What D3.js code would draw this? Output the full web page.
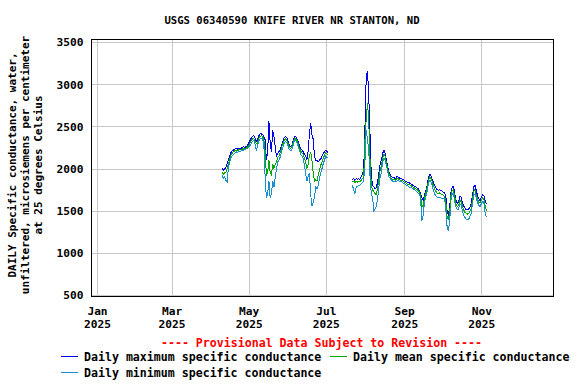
<!doctype html>
<html>
<head>
<meta charset="UTF-8">
<title>USGS 06340590 KNIFE RIVER NR STANTON, ND</title>
<script src="https://cdn.jsdelivr.net/npm/d3@7"></script>
<style>
    body { margin: 0; background: #fff; }
    text { font-family: "DejaVu Sans Mono", "Liberation Mono", monospace; font-weight: bold; fill: #000; }
</style>
</head>
<body>
<div id="chart"></div>
<script>

var width = 576,
    height = 384;

// axis ticks
var yTicks = [500, 1000, 1500, 2000, 2500, 3000, 3500];
var monthTicks = ["2025-01-01", "2025-03-01", "2025-05-01", "2025-07-01", "2025-09-01", "2025-11-01"];
var monthLabels = ["Jan", "Mar", "May", "Jul", "Sep", "Nov"];
var yearLabels = ["2025", "2025", "2025", "2025", "2025", "2025"];

// first record block, one value per day
var seg1Start = "2025-04-10";
var seg1Max = [2000, 1980, 2000, 2010, 2060, 2100, 2150, 2190, 2210, 2220,
    2230, 2240, 2230, 2240, 2240, 2240, 2250, 2260, 2250, 2260,
    2270, 2300, 2330, 2360, 2380, 2390, 2360, 2320, 2340, 2390,
    2410, 2410, 2400, 2380, 2340, 2100, 2200, 2560, 2300, 2200,
    2450, 2380, 2250, 2150, 2180, 2200, 2230, 2280, 2320, 2360,
    2380, 2370, 2330, 2280, 2260, 2270, 2320, 2370, 2380, 2360,
    2330, 2280, 2240, 2220, 2200, 2170, 2150, 2100, 2200, 2400,
    2540, 2400, 2350, 2150, 2100, 2100, 2080, 2100, 2110, 2150,
    2180, 2200, 2220, 2200, 2180];
var seg1Mean = [1950, 1930, 1950, 1960, 2000, 2060, 2110, 2160, 2180, 2200,
    2210, 2220, 2210, 2220, 2220, 2225, 2230, 2240, 2235, 2245,
    2255, 2270, 2300, 2330, 2350, 2360, 2330, 2290, 2300, 2360,
    2380, 2390, 2380, 2340, 2200, 1920, 1950, 2100, 1950, 1920,
    2050, 2000, 2050, 2080, 2130, 2150, 2190, 2250, 2290, 2330,
    2350, 2340, 2300, 2260, 2240, 2250, 2300, 2350, 2360, 2340,
    2300, 2250, 2210, 2190, 2170, 2120, 2080, 2000, 2050, 2150,
    2200, 2100, 1950, 1850, 1870, 1850, 1920, 1980, 2040, 2080,
    2120, 2160, 2190, 2170, 2160];
var seg1Min = [1920, 1880, 1900, 1860, 1840, 2020, 2080, 2130, 2150, 2170,
    2180, 2200, 2190, 2200, 2200, 2210, 2210, 2220, 2220, 2230,
    2240, 2250, 2270, 2300, 2320, 2330, 2290, 2220, 2260, 2330,
    2350, 2360, 2350, 2280, 1900, 1650, 1700, 1850, 1650, 1700,
    1850, 1780, 1900, 2000, 2080, 2100, 2140, 2200, 2250, 2300,
    2320, 2310, 2270, 2230, 2210, 2220, 2270, 2320, 2340, 2310,
    2270, 2220, 2170, 2150, 2120, 2050, 1950, 1850, 1900, 1950,
    1700, 1550, 1600, 1650, 1780, 1760, 1800, 1880, 1950, 2000,
    2060, 2100, 2150, 2130, 2130];

// second record block
var seg2Start = "2025-07-22";
var seg2Max = [1870, 1880, 1860, 1880, 1870, 1880, 1870, 1900, 1930, 2000,
    2500, 3100, 3150, 2850, 2400, 1900, 1800, 1780, 1760, 1770,
    1850, 1950, 2050, 2100, 2180, 2220, 2180, 2100, 2020, 1960,
    1930, 1900, 1890, 1890, 1880, 1900, 1900, 1890, 1880, 1880,
    1870, 1860, 1850, 1840, 1830, 1830, 1820, 1810, 1800, 1790,
    1790, 1770, 1760, 1740, 1700, 1650, 1620, 1680, 1730, 1790,
    1880, 1930, 1920, 1880, 1840, 1800, 1770, 1750, 1740, 1750,
    1740, 1730, 1720, 1710, 1660, 1480, 1450, 1550, 1720, 1780,
    1790, 1700, 1620, 1590, 1600, 1670, 1660, 1600, 1560, 1530,
    1510, 1510, 1520, 1540, 1580, 1680, 1780, 1800, 1740, 1680,
    1640, 1620, 1660, 1690, 1680, 1620, 1580];
var seg2Mean = [1840, 1850, 1830, 1850, 1840, 1850, 1840, 1860, 1880, 1900,
    2350, 2600, 2780, 2550, 2100, 1800, 1750, 1720, 1700, 1690,
    1780, 1880, 1980, 2030, 2120, 2170, 2140, 2060, 1990, 1930,
    1900, 1880, 1870, 1870, 1860, 1880, 1880, 1870, 1860, 1860,
    1850, 1840, 1830, 1820, 1810, 1810, 1800, 1790, 1780, 1770,
    1760, 1750, 1740, 1720, 1680, 1550, 1560, 1640, 1700, 1760,
    1840, 1900, 1890, 1850, 1800, 1760, 1730, 1710, 1700, 1710,
    1700, 1690, 1680, 1670, 1600, 1420, 1400, 1480, 1680, 1740,
    1750, 1660, 1580, 1550, 1560, 1620, 1610, 1560, 1510, 1480,
    1470, 1460, 1470, 1490, 1530, 1630, 1730, 1750, 1690, 1640,
    1600, 1590, 1620, 1650, 1640, 1560, 1500];
var seg2Min = [1800, 1750, 1700, 1780, 1790, 1800, 1800, 1820, 1830, 1850,
    2100, 2450, 2350, 2200, 1900, 1700, 1650, 1500, 1520, 1560,
    1650, 1780, 1900, 1960, 2080, 2120, 2100, 2030, 1960, 1900,
    1880, 1860, 1850, 1850, 1840, 1850, 1860, 1850, 1840, 1840,
    1830, 1820, 1810, 1800, 1790, 1780, 1780, 1770, 1760, 1750,
    1740, 1720, 1710, 1700, 1640, 1380, 1440, 1600, 1660, 1720,
    1800, 1860, 1850, 1800, 1750, 1700, 1680, 1660, 1650, 1660,
    1650, 1640, 1640, 1640, 1500, 1300, 1260, 1380, 1620, 1700,
    1700, 1610, 1540, 1510, 1520, 1580, 1570, 1500, 1450, 1420,
    1400, 1390, 1400, 1430, 1470, 1580, 1680, 1700, 1650, 1600,
    1560, 1550, 1580, 1610, 1600, 1480, 1420];

var colMax = "#0000ee",
    colMean = "#00aa00",
    colMin = "#1a8fd0";

var parse = d3.utcParse("%Y-%m-%d");

function toDays(start, values) {
    var t0 = parse(start);
    return values.map(function (v, i) {
        return { date: d3.utcDay.offset(t0, i), value: v };
    });
}

var box = { left: 91.5, right: 553.5, top: 39.5, bottom: 296.5 };

var x = d3.scaleUtc()
    .domain([parse("2025-01-01"), parse("2025-11-01")])
    .range([97, 481.3]);

var y = d3.scaleLinear()
    .domain([500, 3500])
    .range([295, 42]);

var svg = d3.select("#chart")
    .append("svg")
    .attr("width", width)
    .attr("height", height);

svg.append("rect")
    .attr("width", width)
    .attr("height", height)
    .attr("fill", "#fff");

// title
svg.append("text")
    .attr("x", 292)
    .attr("y", 20)
    .attr("text-anchor", "middle")
    .attr("dominant-baseline", "central")
    .style("font-size", "10.6px")
    .text("USGS 06340590 KNIFE RIVER NR STANTON, ND");

// grid, horizontal
var yAxis = svg.append("g")
    .attr("transform", "translate(" + box.left + ",0)")
    .call(d3.axisLeft(y)
        .tickValues(yTicks)
        .tickSize(-(box.right - box.left))
        .tickPadding(8)
        .tickFormat(d3.format("d")));

yAxis.select(".domain").remove();
yAxis.selectAll("line")
    .attr("stroke", "#c8c8c8")
    .style("shape-rendering", "crispEdges");
yAxis.selectAll("text")
    .style("font-size", "11.2px")
    .style("font-family", "'DejaVu Sans Mono', monospace")
    .style("font-weight", "bold")
    .attr("dy", "0.35em");

// grid, vertical + two line labels
var xAxis = svg.append("g")
    .attr("transform", "translate(0," + box.bottom + ")")
    .call(d3.axisBottom(x)
        .tickValues(monthTicks.map(parse))
        .tickSize(-(box.bottom - box.top))
        .tickFormat(""));

xAxis.select(".domain").remove();
xAxis.selectAll("line")
    .attr("stroke", "#c8c8c8")
    .style("shape-rendering", "crispEdges");

xAxis.selectAll(".tick").each(function (d, i) {
    var g = d3.select(this);
    g.append("text")
        .attr("y", 14.5)
        .attr("text-anchor", "middle")
        .attr("dominant-baseline", "central")
        .style("font-size", "11.2px")
        .text(monthLabels[i]);
    g.append("text")
        .attr("y", 27.5)
        .attr("text-anchor", "middle")
        .attr("dominant-baseline", "central")
        .style("font-size", "11.2px")
        .text(yearLabels[i]);
});

// y title
var yTitle = ["DAILY Specific conductance, water,",
    "unfiltered, microsiemens per centimeter",
    "at 25 degrees Celsius"];
var yTitleX = [12, 25.5, 38.5];

yTitle.forEach(function (t, i) {
    svg.append("text")
        .attr("transform", "translate(" + yTitleX[i] + ",165) rotate(-90)")
        .attr("text-anchor", "middle")
        .attr("dominant-baseline", "central")
        .style("font-size", "11px")
        .text(t);
});

// data
svg.append("clipPath")
    .attr("id", "plotclip")
    .append("rect")
    .attr("x", box.left)
    .attr("y", box.top)
    .attr("width", box.right - box.left)
    .attr("height", box.bottom - box.top);

var line = d3.line()
    .x(function (d) { return x(d.date); })
    .y(function (d) { return y(d.value); });

var plot = svg.append("g").attr("clip-path", "url(#plotclip)");

var series = [
    { color: colMax, blocks: [toDays(seg1Start, seg1Max), toDays(seg2Start, seg2Max)] },
    { color: colMin, blocks: [toDays(seg1Start, seg1Min), toDays(seg2Start, seg2Min)] },
    { color: colMean, blocks: [toDays(seg1Start, seg1Mean), toDays(seg2Start, seg2Mean)] }
];

series.forEach(function (s) {
    plot.selectAll(null)
        .data(s.blocks)
        .enter()
        .append("path")
        .attr("d", line)
        .attr("fill", "none")
        .attr("stroke", s.color)
        .attr("stroke-width", 1)
        .style("shape-rendering", "crispEdges");
});

// frame
svg.append("rect")
    .attr("x", box.left)
    .attr("y", box.top)
    .attr("width", box.right - box.left)
    .attr("height", box.bottom - box.top)
    .attr("fill", "none")
    .attr("stroke", "#000")
    .attr("stroke-width", 1)
    .style("shape-rendering", "crispEdges");

// provisional note
svg.append("text")
    .attr("x", 321.5)
    .attr("y", 342.5)
    .attr("text-anchor", "middle")
    .attr("dominant-baseline", "central")
    .style("font-size", "11.6px")
    .style("fill", "#ff0000")
    .text("---- Provisional Data Subject to Revision ----");

// legend
var legendItems = [
    { label: "Daily maximum specific conductance", color: colMax, x: 61, y: 357 },
    { label: "Daily mean specific conductance", color: colMean, x: 330, y: 357 },
    { label: "Daily minimum specific conductance", color: colMin, x: 61, y: 373 }
];

legendItems.forEach(function (d) {
    svg.append("line")
        .attr("x1", d.x)
        .attr("x2", d.x + 17)
        .attr("y1", d.y - 0.5)
        .attr("y2", d.y - 0.5)
        .attr("stroke", d.color)
        .attr("stroke-width", 1)
        .style("shape-rendering", "crispEdges");
    svg.append("text")
        .attr("x", d.x + 23)
        .attr("y", d.y)
        .attr("dominant-baseline", "central")
        .style("font-size", "11.6px")
        .text(d.label);
});

</script>
</body>
</html>
